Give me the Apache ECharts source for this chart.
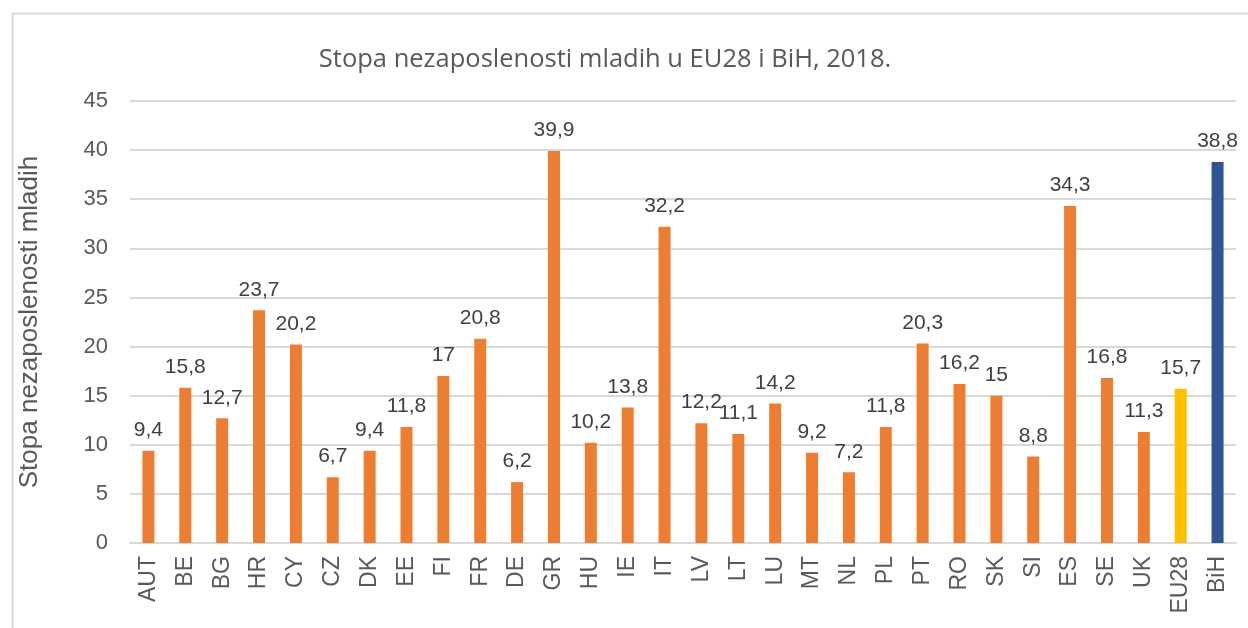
<!DOCTYPE html>
<html>
<head>
<meta charset="utf-8">
<script src="https://cdn.jsdelivr.net/npm/echarts@6/dist/echarts.min.js"></script>
<style>html,body{margin:0;padding:0;background:#fff}#c{width:1248px;height:628px}</style>
</head>
<body>
<div id="c"></div>
<script>
const categories = ['AUT','BE','BG','HR','CY','CZ','DK','EE','FI','FR','DE','GR','HU','IE','IT','LV','LT','LU','MT','NL','PL','PT','RO','SK','SI','ES','SE','UK','EU28','BiH'];
const values = [9.4,15.8,12.7,23.7,20.2,6.7,9.4,11.8,17,20.8,6.2,39.9,10.2,13.8,32.2,12.2,11.1,14.2,9.2,7.2,11.8,20.3,16.2,15,8.8,34.3,16.8,11.3,15.7,38.8];
const yTicks = [0,5,10,15,20,25,30,35,40,45];
const title = 'Stopa nezaposlenosti mladih u EU28 i BiH, 2018.';
const yName = 'Stopa nezaposlenosti mladih';
const colorOf = c => c === 'EU28' ? '#FFC000' : (c === 'BiH' ? '#2F5597' : '#ED7D31');

const chart = echarts.init(document.getElementById('c'));
chart.setOption({
  animation: false,
  graphic: [{type:'rect', left:10, top:11, shape:{width:1300, height:700}, style:{fill:'none', stroke:'#D9D9D9', lineWidth:2}, z:-1}],
  title: {text: title, left: 600, top: 42, textAlign: 'center',
    textStyle: {fontFamily: 'Open Sans', fontSize: 25.5, fontWeight: 'normal', color: '#595959'}},
  grid: {left: 130, right: 12, top: 101, bottom: 85},
  xAxis: {type: 'category', data: categories,
    axisLine: {lineStyle: {color: '#D9D9D9', width: 2}}, axisTick: {show: false},
    axisLabel: {rotate: 90, interval: 0, fontFamily: 'Arial', fontSize: 23, color: '#595959', margin: 13}},
  yAxis: {type: 'value', min: 0, max: 45, interval: 5,
    name: yName, nameLocation: 'middle', nameGap: 87,
    nameTextStyle: {fontFamily: 'Arial', fontSize: 26, color: '#595959'},
    axisLine: {show: false}, axisTick: {show: false},
    axisLabel: {fontFamily: 'Arial', fontSize: 22, color: '#595959', margin: 22,
      formatter: v => yTicks.includes(v) ? String(v) : ''},
    splitLine: {lineStyle: {color: '#D9D9D9', width: 2}}},
  series: [{type: 'bar', barWidth: 12,
    data: values.map((v, i) => ({value: v, itemStyle: {color: colorOf(categories[i])}})),
    label: {show: true, position: 'top', distance: 10, fontFamily: 'Arial', fontSize: 21, color: '#404040',
      formatter: p => String(p.value).replace('.', ',')}}]
});
</script>
</body>
</html>
